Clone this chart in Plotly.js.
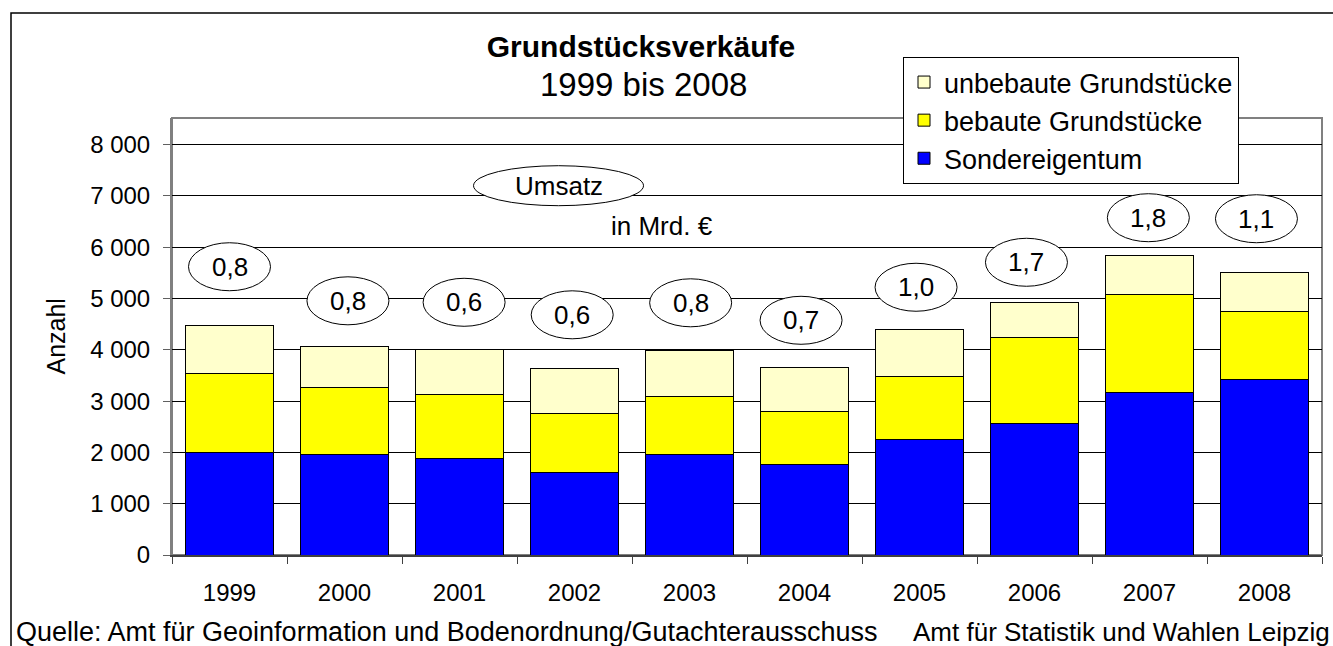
<!DOCTYPE html>
<html>
<head>
<meta charset="utf-8">
<script src="https://cdn.plot.ly/plotly-3.0.1.min.js"></script>
<style>html,body{margin:0;padding:0;background:#fff;}#chart{width:1333px;height:646px;}</style>
</head>
<body>
<div id="chart"></div>
<script>
// ---- data ----
const years = ['1999','2000','2001','2002','2003','2004','2005','2006','2007','2008'];
const sondereigentum = [2000,1950,1885,1610,1950,1755,2260,2560,3170,3430];
const bebaute = [1540,1325,1250,1150,1150,1040,1215,1690,1905,1325];
const unbebaute = [930,785,875,870,895,865,925,670,770,760];
const umsatzMrd = [0.8,0.8,0.6,0.6,0.8,0.7,1.0,1.7,1.8,1.1];
// label placement (layout only)
const labelX = [0,1.03,2.04,2.98,4.01,4.97,5.97,6.93,7.99,8.93];
const labelY = [5620,4956,4927,4683,4917,4576,5220,5707,6576,6556];

const FONT = 'Liberation Sans, Arial, sans-serif';
const fmt = v => v.toFixed(1).replace('.', ',');

const traces = [
  {type:'bar', name:'Sondereigentum', x:years, y:sondereigentum,
   marker:{color:'#0000FF', line:{color:'#000', width:1}}},
  {type:'bar', name:'bebaute Grundstücke', x:years, y:bebaute,
   marker:{color:'#FFFF00', line:{color:'#000', width:1}}},
  {type:'bar', name:'unbebaute Grundstücke', x:years, y:unbebaute,
   marker:{color:'#FFFFCC', line:{color:'#000', width:1}}}
];

const shapes = [
  // outer chart frame
  {type:'rect', xref:'paper', yref:'paper', x0:-0.1400, x1:1.05, y0:-0.3, y1:1.2403,
   line:{color:'#000', width:1.5}, fillcolor:'rgba(0,0,0,0)', layer:'below'},
  // plot area frame
  {type:'rect', xref:'paper', yref:'paper', x0:0, x1:1, y0:0, y1:1,
   line:{color:'#808080', width:2}, fillcolor:'rgba(0,0,0,0)', layer:'below'},
  // Umsatz ellipse
  {type:'circle', xref:'x', yref:'y', xsizemode:'pixel', ysizemode:'pixel',
   xanchor:2.861, yanchor:7200, x0:-85, x1:85, y0:-20, y1:20,
   line:{color:'#000', width:1}, fillcolor:'#fff', layer:'above'}
];
const annotations = [
  {xref:'paper', yref:'paper', x:0.4096, y:1.0772, text:'1999 bis 2008', showarrow:false,
   font:{family:FONT, size:33, color:'#000'}, xanchor:'center', yanchor:'middle'},
  {xref:'paper', yref:'paper', x:-0.1017, y:0.5, text:'Anzahl', textangle:-90, showarrow:false,
   font:{family:FONT, size:25, color:'#000'}, xanchor:'center', yanchor:'middle'},
  {xref:'x', yref:'y', x:2.861, y:7200, text:'Umsatz', showarrow:false,
   font:{family:FONT, size:26, color:'#000'}, xanchor:'center', yanchor:'middle'},
  {xref:'x', yref:'y', x:3.76, y:6420, text:'in Mrd. €', showarrow:false,
   font:{family:FONT, size:26, color:'#000'}, xanchor:'center', yanchor:'middle'},
  {xref:'paper', yref:'paper', x:(14-172)/1150, y:(555-632)/437, text:'Quelle: Amt für Geoinformation und Bodenordnung/Gutachterausschuss',
   showarrow:false, font:{family:FONT, size:27, color:'#000'}, xanchor:'left', yanchor:'middle'},
  {xref:'paper', yref:'paper', x:(1332-172)/1150, y:(555-632)/437, text:'Amt für Statistik und Wahlen Leipzig',
   showarrow:false, font:{family:FONT, size:26, color:'#000'}, xanchor:'right', yanchor:'middle'}
];
umsatzMrd.forEach((v, i) => {
  shapes.push({type:'circle', xref:'x', yref:'y', xsizemode:'pixel', ysizemode:'pixel',
    xanchor:labelX[i], yanchor:labelY[i], x0:-41, x1:41, y0:-24, y1:24,
    line:{color:'#000', width:1}, fillcolor:'#fff', layer:'above'});
  annotations.push({xref:'x', yref:'y', x:labelX[i], y:labelY[i], text:fmt(v), showarrow:false,
    font:{family:FONT, size:26, color:'#000'}, xanchor:'center', yanchor:'middle'});
});

const layout = {
  width:1333, height:646, autosize:false,
  margin:{l:172, r:11, t:118, b:91},
  paper_bgcolor:'#fff', plot_bgcolor:'#fff',
  separators:', ',
  font:{family:FONT, color:'#000'},
  title:{text:'<b>Grundstücksverkäufe</b>', font:{family:FONT, size:30, color:'#000'},
         x:641/1333, xanchor:'center', xref:'container', y:1-46/646, yanchor:'middle', yref:'container'},
  barmode:'stack', bargap:0.235,
  showlegend:true,
  legend:{x:(903-172)/1150, y:(555-57)/437, xanchor:'left', yanchor:'top',
          bgcolor:'#fff', bordercolor:'#000', borderwidth:1, traceorder:'reversed',
          font:{family:FONT, size:27, color:'#000'}},
  xaxis:{type:'category', tickson:'boundaries', ticks:'outside', ticklen:7, tickcolor:'#404040',
         showgrid:false, showline:true, linecolor:'#404040', linewidth:1.5, zeroline:false,
         tickfont:{family:FONT, size:24, color:'#000'}, ticklabelstandoff:16, fixedrange:true},
  yaxis:{range:[0,8520], tickvals:[0,1000,2000,3000,4000,5000,6000,7000,8000], tickformat:',d',
         ticks:'outside', ticklen:7, tickcolor:'#606060', showgrid:true, gridcolor:'#000', gridwidth:1,
         showline:true, linecolor:'#808080', linewidth:2, zeroline:false,
         tickfont:{family:FONT, size:24, color:'#000'}, ticklabelstandoff:8, fixedrange:true},
  shapes:shapes, annotations:annotations
};

Plotly.newPlot('chart', traces, layout, {displayModeBar:false, staticPlot:true});
</script>
</body>
</html>
